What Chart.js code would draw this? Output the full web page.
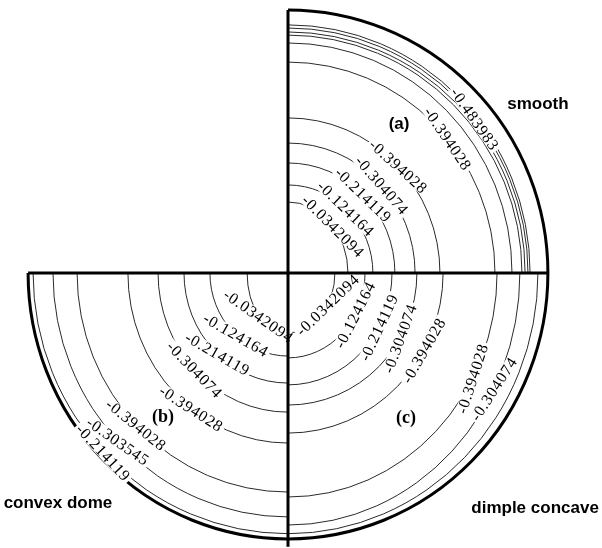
<!DOCTYPE html>
<html>
<head>
<meta charset="utf-8">
<script src="https://cdn.jsdelivr.net/npm/chart.js@4/dist/chart.umd.min.js"></script>
<style>
  html, body { margin: 0; padding: 0; background: #fff; }
  canvas { display: block; }
</style>
</head>
<body>
<canvas id="chart" width="602" height="548"></canvas>
<script>
// Contour levels per quadrant; radii are fractions of the outer radius,
// measured along the horizontal (rx) and vertical (ry) axes.

// (a) smooth surface, upper right
const smoothLevels = [-0.0342094, -0.124164, -0.214119, -0.304074, -0.394028, -0.394028, null, null, null, -0.483983, null];
const smoothRx = [0.229, 0.324, 0.408, 0.485, 0.580, 0.790, 0.855, 0.893, 0.905, 0.916, 0.924];
const smoothRy = [0.271, 0.336, 0.420, 0.496, 0.592, 0.805, 0.878, 0.908, 0.920, 0.935, 0.947];

// (b) convex dome, lower left
const domeLevels = [-0.0342094, -0.124164, -0.214119, -0.304074, -0.394028, -0.394028, -0.303545, -0.214119];
const domeRx = [0.156, 0.298, 0.397, 0.496, 0.611, 0.805, 0.897, 0.973];
const domeRy = [0.237, 0.317, 0.420, 0.531, 0.649, 0.836, 0.931, 0.995];

// (c) dimple concave, lower right
const dimpleLevels = [-0.0342094, -0.124164, -0.214119, -0.304074, -0.394028, -0.394028, -0.304074, null];
const dimpleRx = [0.179, 0.294, 0.397, 0.492, 0.592, 0.798, 0.885, 0.954];
const dimpleRy = [0.229, 0.324, 0.427, 0.504, 0.611, 0.855, 0.962, 0.995];

// Outer boundary of each quadrant: (a), (b), (c)
const boundaryRx = [0.992, 0.992, 0.992];
const boundaryRy = [1.004, 1.015, 1.015];

// Label placement along each contour: [polar angle (deg), text rotation (deg)]
const smoothLabelAt = [[46, 45], [48, 44], [46, 44], [43, 49], [44, 42], [40, 56], null, null, null, [39.5, 55], null];
const domeLabelAt = [[235.7, 35], [230, 30], [229, 30], [226, 46], [234.5, 33], [225, 39], [224.7, 35], [224.2, 47]];
const dimpleLabelAt = [[-38.7, -44], [-32, -63], [-30.9, -65], [-30.3, -70], [-29.7, -60], [-29.8, -72], [-29.4, -57], null];

// Captions in data coordinates
const captions = [
  { text: 'smooth',         x: 0.954,  y: 0.645,  font: "bold 17px 'Liberation Sans', Arial, sans-serif" },
  { text: 'convex dome',    x: -0.878, y: -0.878, font: "bold 17px 'Liberation Sans', Arial, sans-serif" },
  { text: 'dimple concave', x: 0.943,  y: -0.897, font: "bold 17px 'Liberation Sans', Arial, sans-serif" },
  { text: '(a)',            x: 0.424,  y: 0.569,  font: "bold 17px 'Liberation Sans', Arial, sans-serif" },
  { text: '(b)',            x: -0.477, y: -0.550, font: "bold 18px 'Liberation Serif', 'Times New Roman', serif" },
  { text: '(c)',            x: 0.450,  y: -0.553, font: "bold 18px 'Liberation Serif', 'Times New Roman', serif" }
];

const HALF_PI = Math.PI / 2;
const quadrants = [
  { levels: smoothLevels, rx: smoothRx, ry: smoothRy, at: smoothLabelAt, from: -HALF_PI, to: 0 },
  { levels: domeLevels,   rx: domeRx,   ry: domeRy,   at: domeLabelAt,   from: HALF_PI,  to: Math.PI },
  { levels: dimpleLevels, rx: dimpleRx, ry: dimpleRy, at: dimpleLabelAt, from: 0,        to: HALF_PI }
];

// Cross-shaped axes spanning the boundary
const horizontalAxis = [{ x: -boundaryRx[1], y: 0 }, { x: boundaryRx[0], y: 0 }];
const verticalAxis = [{ x: 0, y: boundaryRy[0] }, { x: 0, y: -boundaryRy[2] - 0.03 }];

const contourPlugin = {
  id: 'contours',
  beforeDatasetsDraw(chart) {
    const { ctx, scales: { x, y } } = chart;
    const cx = x.getPixelForValue(0);
    const cy = y.getPixelForValue(0);
    const w = v => x.getPixelForValue(v) - cx;
    const h = v => cy - y.getPixelForValue(v);

    ctx.save();
    // contour lines
    ctx.strokeStyle = '#2a2a2a';
    ctx.lineWidth = 1;
    quadrants.forEach(q => {
      q.rx.forEach((r, i) => {
        ctx.beginPath();
        ctx.ellipse(cx, cy, w(r), h(q.ry[i]), 0, q.from, q.to);
        ctx.stroke();
      });
    });

    // outer boundary
    ctx.strokeStyle = '#000';
    ctx.lineWidth = 3;
    quadrants.forEach((q, k) => {
      ctx.beginPath();
      ctx.ellipse(cx, cy, w(boundaryRx[k]), h(boundaryRy[k]), 0, q.from, q.to);
      ctx.stroke();
    });

    // inline contour labels
    ctx.font = "16px 'Liberation Serif', 'Times New Roman', serif";
    if ('letterSpacing' in ctx) ctx.letterSpacing = '0.8px';
    ctx.textAlign = 'center';
    ctx.textBaseline = 'middle';
    quadrants.forEach(q => {
      q.levels.forEach((lv, i) => {
        const place = q.at[i];
        if (lv === null || !place) return;
        const phi = place[0] * Math.PI / 180;
        const a = w(q.rx[i]), b = h(q.ry[i]);
        const c = Math.cos(phi), s = Math.sin(phi);
        const r = 1 / Math.sqrt((c * c) / (a * a) + (s * s) / (b * b));
        const px = cx + r * c, py = cy - r * s;
        const text = String(lv);
        const tw = ctx.measureText(text).width;
        ctx.save();
        ctx.translate(px, py);
        ctx.rotate(place[1] * Math.PI / 180);
        ctx.fillStyle = '#fff';
        ctx.fillRect(-tw / 2 - 2, -6, tw + 4, 12);
        ctx.fillStyle = '#000';
        ctx.fillText(text, 0, 1);
        ctx.restore();
      });
    });
    ctx.restore();
  },
  afterDraw(chart) {
    const { ctx, scales: { x, y } } = chart;
    ctx.save();
    ctx.fillStyle = '#000';
    ctx.textAlign = 'center';
    ctx.textBaseline = 'middle';
    captions.forEach(cap => {
      ctx.font = cap.font;
      ctx.fillText(cap.text, x.getPixelForValue(cap.x), y.getPixelForValue(cap.y));
    });
    ctx.restore();
  }
};

new Chart(document.getElementById('chart'), {
  type: 'scatter',
  data: {
    datasets: [
      { data: horizontalAxis, showLine: true, borderColor: '#000', borderWidth: 3, pointRadius: 0, clip: false },
      { data: verticalAxis,   showLine: true, borderColor: '#000', borderWidth: 3, pointRadius: 0, clip: false }
    ]
  },
  options: {
    responsive: false,
    animation: false,
    devicePixelRatio: 1,
    layout: { padding: { left: 26, right: 52, top: 11, bottom: 13 } },
    plugins: { legend: { display: false }, tooltip: { enabled: false } },
    scales: {
      x: { type: 'linear', min: -1, max: 1, display: false },
      y: { type: 'linear', min: -1, max: 1, display: false }
    }
  },
  plugins: [contourPlugin]
});
</script>
</body>
</html>
